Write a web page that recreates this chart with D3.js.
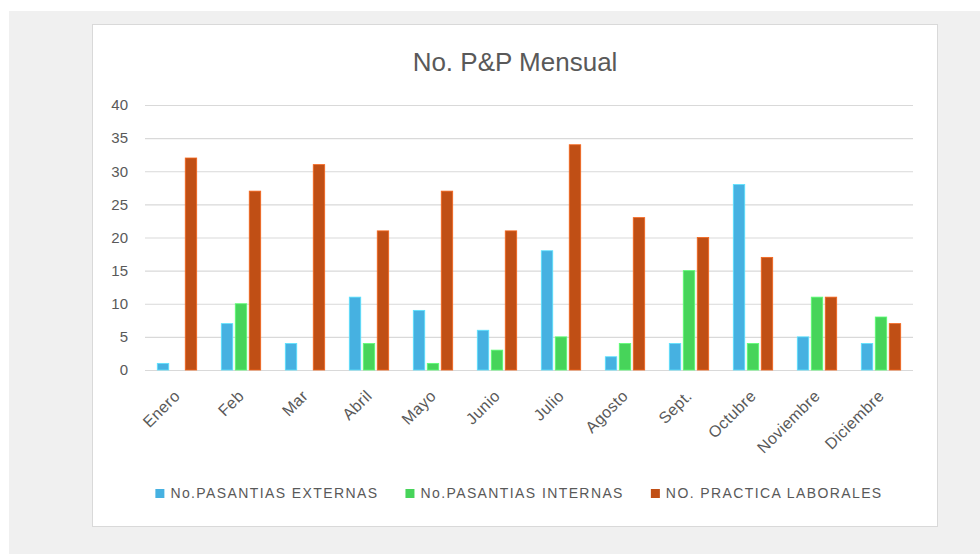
<!DOCTYPE html>
<html>
<head>
<meta charset="utf-8">
<script src="https://cdn.jsdelivr.net/npm/d3@7"></script>
<style>
  body { margin: 0; background: #fff; }
  svg { display: block; }
</style>
</head>
<body>
<div id="chart"></div>
<script>
// data
var months = ["Enero", "Feb", "Mar", "Abril", "Mayo", "Junio", "Julio", "Agosto", "Sept.", "Octubre", "Noviembre", "Diciembre"];
var seriesNames = ["No.PASANTIAS EXTERNAS", "No.PASANTIAS  INTERNAS", "NO. PRACTICA LABORALES"];
var externas = [1, 7, 4, 11, 9, 6, 18, 2, 4, 28, 5, 4];
var internas = [0, 10, 0, 4, 1, 3, 5, 4, 15, 4, 11, 8];
var practicas = [32, 27, 31, 21, 27, 21, 34, 23, 20, 17, 11, 7];
var yTicks = [0, 5, 10, 15, 20, 25, 30, 35, 40];
var colors = ["#46B1E1", "#47D45A", "#C04F15"];

var W = 980, H = 554;
var plot = {left: 145, right: 913, top: 105, bottom: 370};

var svg = d3.select("#chart").append("svg")
  .attr("width", W)
  .attr("height", H);

// page background and chart panel
svg.append("rect").attr("x", 9).attr("y", 11).attr("width", W - 9).attr("height", H - 11).attr("fill", "#f0f0f0");
svg.append("rect").attr("x", 92.5).attr("y", 24.5).attr("width", 845).attr("height", 502)
  .attr("fill", "#fff").attr("stroke", "#d9d9d9").attr("stroke-width", 1);

svg.append("text")
  .attr("x", 515).attr("y", 71)
  .attr("text-anchor", "middle")
  .style("font-family", "Liberation Sans, Arial, sans-serif")
  .style("font-size", "26px")
  .attr("fill", "#595959")
  .text("No. P&P Mensual");

var x = d3.scaleBand().domain(months).range([plot.left, plot.right]).padding(0);
var xs = d3.scaleBand().domain(d3.range(3)).range([0, x.bandwidth()]).paddingInner(0.18).paddingOuter(0.88);
var y = d3.scaleLinear().domain([0, 40]).range([plot.bottom, plot.top]);

// gridlines + y labels
var yAxis = svg.append("g")
  .attr("transform", "translate(" + plot.left + ",0)")
  .call(d3.axisLeft(y).tickValues(yTicks).tickSize(-(plot.right - plot.left)).tickPadding(17));
yAxis.select(".domain").remove();
yAxis.selectAll(".tick line").attr("stroke", "#d9d9d9").attr("stroke-width", 1.2);
yAxis.selectAll(".tick text")
  .attr("fill", "#595959")
  .style("font-family", "Liberation Sans, Arial, sans-serif")
  .style("font-size", "15px");

var data = [externas, internas, practicas];
var groups = svg.append("g").selectAll("g")
  .data(data)
  .enter().append("g")
  .attr("fill", function(d, i){ return colors[i]; })
  .attr("stroke", function(d, i){ return d3.color(colors[i]).brighter(0.7); })
  .attr("stroke-width", 0.8);

groups.each(function(vals, s){
  var pts = vals.map(function(v, i){ return {month: months[i], value: v}; })
    .filter(function(p){ return p.value > 0; });
  d3.select(this).selectAll("rect")
    .data(pts)
    .enter().append("rect")
    .attr("x", function(p){ return x(p.month) + xs(s); })
    .attr("y", function(p){ return y(p.value); })
    .attr("width", xs.bandwidth())
    .attr("height", function(p){ return y(0) - y(p.value); });
});

// category labels
var xAxis = svg.append("g");
xAxis.selectAll("text")
  .data(months)
  .enter().append("text")
  .attr("transform", function(d){ return "translate(" + (x(d) + x.bandwidth() / 2 + 4) + "," + 397 + ") rotate(-45)"; })
  .attr("text-anchor", "end")
  .attr("fill", "#595959")
  .style("font-family", "Liberation Sans, Arial, sans-serif")
  .style("font-size", "16px")
  .style("letter-spacing", "0.4px")
  .text(function(d){ return d; });

// legend
var legend = svg.append("g");
var items = legend.selectAll("g")
  .data(seriesNames)
  .enter().append("g");
items.append("rect")
  .attr("width", 9).attr("height", 9)
  .attr("y", -9)
  .attr("fill", function(d, i){ return colors[i]; });
items.append("text")
  .attr("x", 15)
  .attr("fill", "#595959")
  .style("font-family", "Liberation Sans, Arial, sans-serif")
  .style("font-size", "14px")
  .style("letter-spacing", "1.4px")
  .text(function(d){ return d; });

var widths = [];
items.each(function(){ widths.push(this.getBBox().width); });
var gap = 27;
var total = d3.sum(widths) + gap * (widths.length - 1);
var lx = 519 - total / 2;
items.attr("transform", function(d, i){
  var pos = lx;
  lx += widths[i] + gap;
  return "translate(" + pos + ",498)";
});
</script>
</body>
</html>
